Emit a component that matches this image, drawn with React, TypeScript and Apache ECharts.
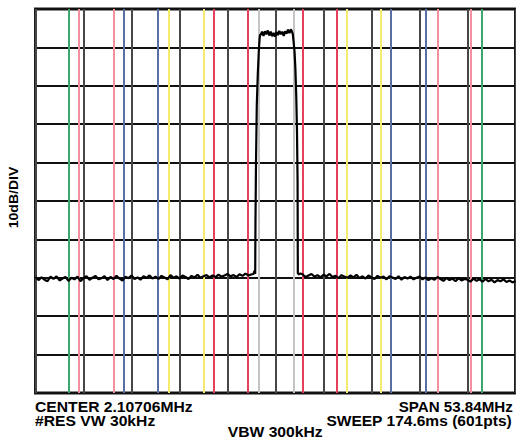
import React, { useEffect, useRef } from "react";
import * as echarts from "echarts";

// x in divisions (0..10), y in dB (0 = top reference, 10 dB/div)
const floorLeftStart = 0;
const floorStep = 0.0625;
const floorLeft = [
  -69.8, -70.6, -69.9, -70.5, -70.9, -69.7, -70.3, -69.6, -70.7, -70.2, -69.8, -70.8, -70.0, -70.4, -69.7, -70.9, -70.1, -69.6, -70.5, -70.0,
  -69.5, -70.4, -70.1, -69.6, -70.6, -69.8, -70.3, -69.5, -70.2, -70.7, -69.7, -70.1, -69.4, -70.3, -69.9, -70.5, -69.6, -70.0, -69.4, -70.2,
  -69.7, -70.3, -69.5, -69.9, -70.4, -69.3, -70.0, -69.6, -70.2, -69.4, -69.8, -70.3, -69.5, -69.9, -69.2, -70.0, -69.6, -69.3, -69.9, -69.4,
  -69.8, -69.2, -69.7, -69.4, -69.0, -69.6, -69.3, -69.8, -69.1, -69.5, -68.9, -69.4, -69.1,
];
const leftEdge: [number, number][] = [
  [4.542, -69.0], [4.5625, -68.2], [4.577, -69.0], [4.583, -55], [4.594, -40],
  [4.61, -25], [4.631, -17], [4.652, -11], [4.667, -8], [4.679, -6.6],
];
const plateauStart = 4.69;
const plateauStep = 0.03;
const plateau = [
  -6.8, -5.9, -7.0, -5.8, -6.6, -5.6, -6.9, -5.9, -7.1, -6.2, -7.2,
  -6.0, -6.8, -5.7, -6.6, -5.9, -7.0, -5.8, -6.4, -5.4, -6.3, -5.3,
];
const rightEdge: [number, number][] = [
  [5.34, -5.8], [5.36, -6.5], [5.377, -8.5], [5.396, -11], [5.4125, -15],
  [5.431, -22], [5.448, -32], [5.46, -45], [5.465, -68.8], [5.49, -69.1], [5.52, -68.9],
];
const floorRightStart = 5.5625;
const floorRight = [
  -69.1, -69.8, -69.4, -69.0, -69.7, -69.3, -69.9, -69.2, -69.6, -69.0, -69.8, -69.5, -70.1, -69.3, -69.7, -70.0, -69.4, -69.9, -69.2, -70.1,
  -69.6, -70.2, -69.4, -69.9, -70.3, -69.5, -70.0, -69.7, -70.4, -69.6, -69.9, -70.3, -69.6, -70.5, -69.8, -70.2, -69.7, -70.4, -70.0, -69.7,
  -70.4, -69.9, -70.6, -70.1, -70.5, -69.8, -70.3, -70.8, -70.0, -70.6, -70.2, -70.9, -70.1, -70.7, -70.3, -70.5, -71.0, -70.2, -70.8, -70.4,
  -71.0, -70.3, -70.9, -70.5, -71.2, -70.6, -70.9, -70.4, -71.1, -70.7, -71.2, -70.8,
];

const markerPos = [0.692, 0.906, 1.635, 1.829, 2.552, 2.775, 3.496, 3.713, 4.427, 4.663, 5.379, 5.573, 6.275, 6.483, 7.204, 7.4, 8.115, 8.365, 9.058, 9.302];
const markerColor = [
  "#3da66e", "#f2909f", "#f2909f", "#5a6ea6", "#5a6ea6", "#f5ec6e", "#f5ec6e", "#e5405c", "#e5405c", "#c4c4c4",
  "#c4c4c4", "#e5405c", "#e5405c", "#f5ec6e", "#f5ec6e", "#5a6ea6", "#5a6ea6", "#f2909f", "#f2909f", "#3da66e",
];

const yLabel = "10dB/DIV";
const bottomLeft = ["CENTER 2.10706MHz", "#RES VW 30kHz"];
const bottomRight = ["SPAN 53.84MHz", "SWEEP 174.6ms (601pts)"];
const bottomCenter = "VBW 300kHz";

export default function App() {
  const ref = useRef<HTMLDivElement>(null);
  useEffect(() => {
    if (!ref.current) return;
    const chart = echarts.init(ref.current, null, { renderer: "svg" });
    const trace: [number, number][] = [];
    floorLeft.forEach((v, i) => trace.push([floorLeftStart + i * floorStep, v]));
    leftEdge.forEach((p) => trace.push(p));
    plateau.forEach((v, i) => trace.push([plateauStart + i * plateauStep, v]));
    rightEdge.forEach((p) => trace.push(p));
    floorRight.forEach((v, i) => trace.push([floorRightStart + i * floorStep, v]));

    const font = "'Liberation Sans', Arial, sans-serif";
    const textStyle = (text: string, align: string) => ({
      text,
      fill: "#000",
      font: `bold 14px ${font}`,
      textAlign: align,
      textVerticalAlign: "middle",
    });

    chart.setOption({
      animation: false,
      backgroundColor: "#fff",
      grid: {
        left: 35.5,
        top: 9,
        width: 480,
        height: 384,
        show: true,
        borderColor: "#1a1a1a",
        borderWidth: 3,
        backgroundColor: "transparent",
      },
      xAxis: {
        type: "value",
        min: 0,
        max: 10,
        interval: 1,
        axisLine: { show: false },
        axisTick: { show: false },
        axisLabel: { show: false },
        splitLine: { show: true, lineStyle: { color: "#474747", width: 2 } },
      },
      yAxis: {
        type: "value",
        min: -100,
        max: 0,
        interval: 10,
        axisLine: { show: false },
        axisTick: { show: false },
        axisLabel: { show: false },
        splitLine: { show: true, lineStyle: { color: "#111", width: 2 } },
      },
      series: [
        {
          type: "line",
          data: [],
          z: 1,
          markLine: {
            silent: true,
            symbol: ["none", "none"],
            label: { show: false },
            data: markerPos.map((x, i) => ({
              xAxis: x,
              lineStyle: { color: markerColor[i], width: 2, type: "solid" },
            })),
          },
        },
        {
          type: "line",
          data: trace,
          z: 5,
          showSymbol: false,
          symbol: "none",
          lineStyle: { color: "#000", width: 2.2 },
        },
      ],
      graphic: [
        {
          type: "text",
          x: 13.7,
          y: 197.5,
          rotation: Math.PI / 2,
          scaleX: 1,
          scaleY: 0.85,
          style: textStyle(yLabel, "center"),
        },
        { type: "text", x: 35, y: 407.5, scaleX: 1.12, style: textStyle(bottomLeft[0], "left") },
        { type: "text", x: 35, y: 421.5, scaleX: 1.12, style: textStyle(bottomLeft[1], "left") },
        { type: "text", x: 512.7, y: 407.5, scaleX: 1.08, style: textStyle(bottomRight[0], "right") },
        { type: "text", x: 511.7, y: 421.5, scaleX: 1.11, style: textStyle(bottomRight[1], "right") },
        { type: "text", x: 275.2, y: 432, scaleX: 1.12, style: textStyle(bottomCenter, "center") },
      ],
    });
    return () => chart.dispose();
  }, []);
  return (
    <div
      ref={ref}
      style={{ position: "absolute", left: 0, top: 0, width: 516, height: 445, background: "#fff" }}
    />
  );
}
